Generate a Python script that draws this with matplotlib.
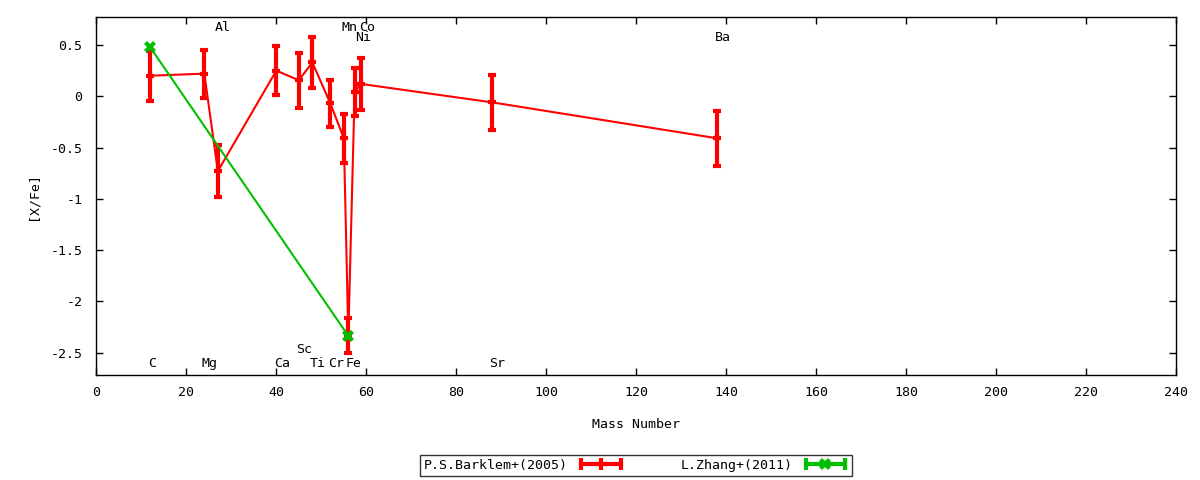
import matplotlib
matplotlib.use('Agg')
import matplotlib.pyplot as plt
from matplotlib.lines import Line2D
from matplotlib.legend_handler import HandlerLine2D, HandlerTuple
from matplotlib.ticker import FuncFormatter

plt.rcParams['font.family'] = ['DejaVu Sans Mono']
plt.rcParams['font.size'] = 9.5
plt.rcParams['axes.unicode_minus'] = False

# Barklem et al. (2005)
elements = ['C', 'Mg', 'Al', 'Ca', 'Sc', 'Ti', 'Cr', 'Mn', 'Fe', 'Ni', 'Co', 'Sr', 'Ba']
mass = [12, 24, 27, 40, 45, 48, 52, 55, 56, 57.4, 58.8, 88, 138]
xfe = [0.20, 0.22, -0.73, 0.25, 0.155, 0.33, -0.07, -0.41, -2.33, 0.04, 0.12, -0.06, -0.41]
err = [0.245, 0.235, 0.25, 0.24, 0.27, 0.25, 0.23, 0.24, 0.17, 0.235, 0.255, 0.27, 0.27]

# Zhang et al. (2011)
mass_z = [12, 56]
xfe_z = [0.475, -2.335]

# element labels (x, y)
lab_x = [12, 24, 27, 40, 45, 48, 52, 55, 56, 58.1, 58.9, 88, 138]
lab_y = [-2.60, -2.60, 0.67, -2.60, -2.47, -2.60, -2.60, 0.67, -2.60, 0.57, 0.67, -2.60, 0.57]

fig = plt.figure(figsize=(12, 4.8), dpi=100)
ax = fig.add_axes([0.0803, 0.219, 0.8999, 0.7456])

ax.errorbar(mass, xfe, yerr=err, color='#ff0000', lw=1.5, elinewidth=3,
            capsize=3, capthick=3, marker='+', ms=6, mew=3, zorder=3)
ax.plot(mass_z, xfe_z, color='#00c000', lw=1.5, marker='X', ms=9, mew=0, zorder=4)

for el, lx, ly in zip(elements, lab_x, lab_y):
    ax.text(lx - 0.6, ly, el, ha='left', va='center')

ax.set_xlim(0, 240)
ax.set_ylim(-2.715, 0.772)
ax.set_xticks(range(0, 241, 20))
ax.set_yticks([-2.5, -2, -1.5, -1, -0.5, 0, 0.5])
ax.yaxis.set_major_formatter(FuncFormatter(lambda v, p: '%g' % v))
ax.tick_params(direction='in', top=True, right=True, length=5, width=1, pad=8)
ax.tick_params(axis='y', pad=10)
for s in ax.spines.values():
    s.set_linewidth(1)

ax.set_xlabel('Mass Number', labelpad=14)
ax.set_ylabel('[X/Fe]', labelpad=8)

# gnuplot style legend keys: line with caps at the ends and a point in the middle
red_bar = Line2D([], [], color='#ff0000', lw=3, marker='|', ms=8, mew=3)
red_pt = Line2D([], [], color='#ff0000', ls='none', marker='+', ms=8, mew=3)
grn_bar = Line2D([], [], color='#00c000', lw=3, marker='|', ms=8, mew=3)
grn_pt = Line2D([], [], color='#00c000', ls='none', marker='X', ms=9, mew=0)

hm = {red_bar: HandlerLine2D(numpoints=2, marker_pad=0.2),
      grn_bar: HandlerLine2D(numpoints=2, marker_pad=0.2),
      red_pt: HandlerLine2D(numpoints=1),
      grn_pt: HandlerLine2D(numpoints=1),
      tuple: HandlerTuple(ndivide=1)}

leg = fig.legend([(red_bar, red_pt), (grn_bar, grn_pt)],
                 ['P.S.Barklem+(2005)', 'L.Zhang+(2011)'],
                 handler_map=hm, loc='center', bbox_to_anchor=(0.53, 0.031),
                 ncol=2, markerfirst=False, frameon=True, fancybox=False,
                 handlelength=3.4, handletextpad=0.8, columnspacing=4.3,
                 borderpad=0.3, borderaxespad=0)
leg.get_frame().set_edgecolor('black')
leg.get_frame().set_linewidth(1)

plt.savefig('out.png', dpi=100)
